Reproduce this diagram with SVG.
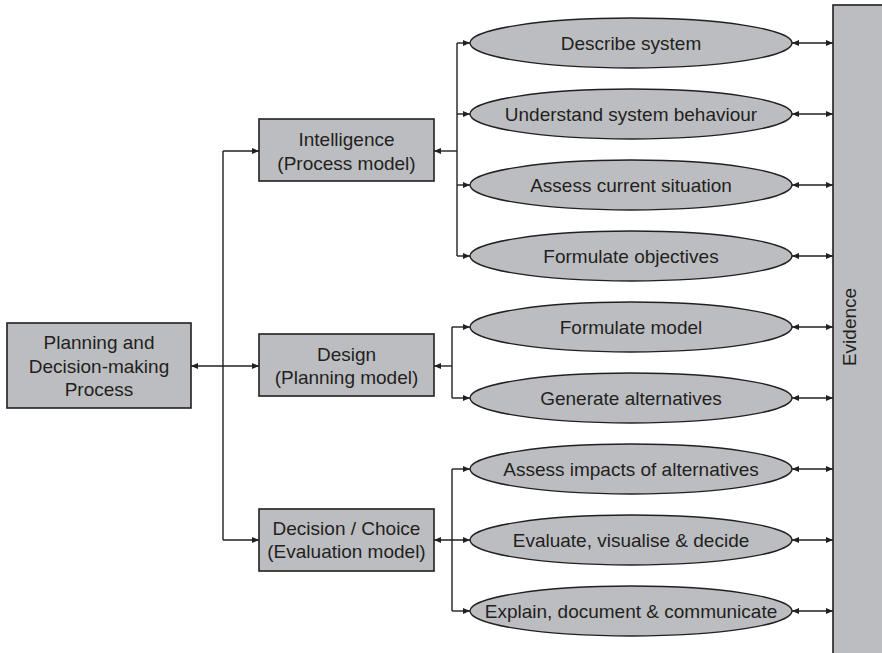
<svg xmlns="http://www.w3.org/2000/svg" width="882" height="653" viewBox="0 0 882 653">
  <style>
    .box { fill: #bcbdc0; stroke: #231f20; stroke-width: 1.6; }
    .ell { fill: #bcbdc0; stroke: #231f20; stroke-width: 1.4; }
    .t { font-family: "Liberation Sans", Arial, sans-serif; font-size: 19px; fill: #231f20; text-anchor: middle; }
    .c { fill: none; stroke: #231f20; stroke-width: 1.4; }
    .a { marker-end: url(#ah); }
    .aa { marker-start: url(#ah); marker-end: url(#ah); }
    .as { marker-start: url(#ah); }
  </style>
  <defs>
    <marker id="ah" markerUnits="userSpaceOnUse" markerWidth="7" markerHeight="6" refX="7" refY="3" orient="auto-start-reverse">
      <path d="M0,0 L7,3 L0,6 z" fill="#231f20"/>
    </marker>
  </defs>
  <rect width="882" height="653" fill="#ffffff"/>

  <g id="connectors">
    <path class="c aa" d="M191,366 H259"/>
    <path class="c" d="M223,151 V540"/>
    <path class="c a" d="M223,151 H259"/>
    <path class="c a" d="M223,540 H259"/>

    <path class="c as" d="M434,151 H457"/>
    <path class="c" d="M457,43 V256"/>
    <path class="c a" d="M457,43 H470"/>
    <path class="c a" d="M457,114 H470"/>
    <path class="c a" d="M457,185 H470"/>
    <path class="c a" d="M457,256 H470"/>

    <path class="c as" d="M434,366 H452"/>
    <path class="c" d="M452,327 V398"/>
    <path class="c a" d="M452,327 H470"/>
    <path class="c a" d="M452,398 H470"/>

    <path class="c aa" d="M434,540 H470"/>
    <path class="c" d="M452,469 V611"/>
    <path class="c a" d="M452,469 H470"/>
    <path class="c a" d="M452,611 H470"/>

    <path class="c aa" d="M792,43 H833"/>
    <path class="c aa" d="M792,114 H833"/>
    <path class="c aa" d="M792,185 H833"/>
    <path class="c aa" d="M792,256 H833"/>
    <path class="c aa" d="M792,327 H833"/>
    <path class="c aa" d="M792,398 H833"/>
    <path class="c aa" d="M792,469 H833"/>
    <path class="c aa" d="M792,540 H833"/>
    <path class="c aa" d="M792,611 H833"/>
  </g>

  <g id="planning">
    <rect class="box" x="7" y="323" width="184" height="85"/>
    <text class="t" x="99" y="349">Planning and</text>
    <text class="t" x="99" y="372.5">Decision-making</text>
    <text class="t" x="99" y="396">Process</text>
  </g>

  <g id="intelligence">
    <rect class="box" x="259" y="119" width="175" height="62"/>
    <text class="t" x="346.5" y="146">Intelligence</text>
    <text class="t" x="346.5" y="169.5">(Process model)</text>
  </g>

  <g id="design">
    <rect class="box" x="259" y="334" width="175" height="62"/>
    <text class="t" x="346.5" y="360.5">Design</text>
    <text class="t" x="346.5" y="383.5">(Planning model)</text>
  </g>

  <g id="decision">
    <rect class="box" x="259" y="509" width="175" height="62"/>
    <text class="t" x="346.5" y="534.5">Decision / Choice</text>
    <text class="t" x="346.5" y="557.5">(Evaluation model)</text>
  </g>

  <g id="describe-system">
    <ellipse class="ell" cx="631" cy="43" rx="161" ry="25"/>
    <text class="t" x="631" y="49.5">Describe system</text>
  </g>
  <g id="understand-system">
    <ellipse class="ell" cx="631" cy="114" rx="161" ry="25"/>
    <text class="t" x="631" y="120.5">Understand system behaviour</text>
  </g>
  <g id="assess-current">
    <ellipse class="ell" cx="631" cy="185" rx="161" ry="25"/>
    <text class="t" x="631" y="191.5">Assess current situation</text>
  </g>
  <g id="formulate-objectives">
    <ellipse class="ell" cx="631" cy="256" rx="161" ry="25"/>
    <text class="t" x="631" y="262.5">Formulate objectives</text>
  </g>
  <g id="formulate-model">
    <ellipse class="ell" cx="631" cy="327" rx="161" ry="25"/>
    <text class="t" x="631" y="333.5">Formulate model</text>
  </g>
  <g id="generate-alternatives">
    <ellipse class="ell" cx="631" cy="398" rx="161" ry="25"/>
    <text class="t" x="631" y="404.5">Generate alternatives</text>
  </g>
  <g id="assess-impacts">
    <ellipse class="ell" cx="631" cy="469" rx="161" ry="25"/>
    <text class="t" x="631" y="475.5">Assess impacts of alternatives</text>
  </g>
  <g id="evaluate">
    <ellipse class="ell" cx="631" cy="540" rx="161" ry="25"/>
    <text class="t" x="631" y="546.5">Evaluate, visualise &amp; decide</text>
  </g>
  <g id="explain">
    <ellipse class="ell" cx="631" cy="611" rx="161" ry="25"/>
    <text class="t" x="631" y="617.5">Explain, document &amp; communicate</text>
  </g>

  <g id="evidence">
    <rect class="box" x="833" y="5" width="70" height="700"/>
    <text class="t" transform="translate(856,327) rotate(-90)" x="0" y="0">Evidence</text>
  </g>
</svg>
